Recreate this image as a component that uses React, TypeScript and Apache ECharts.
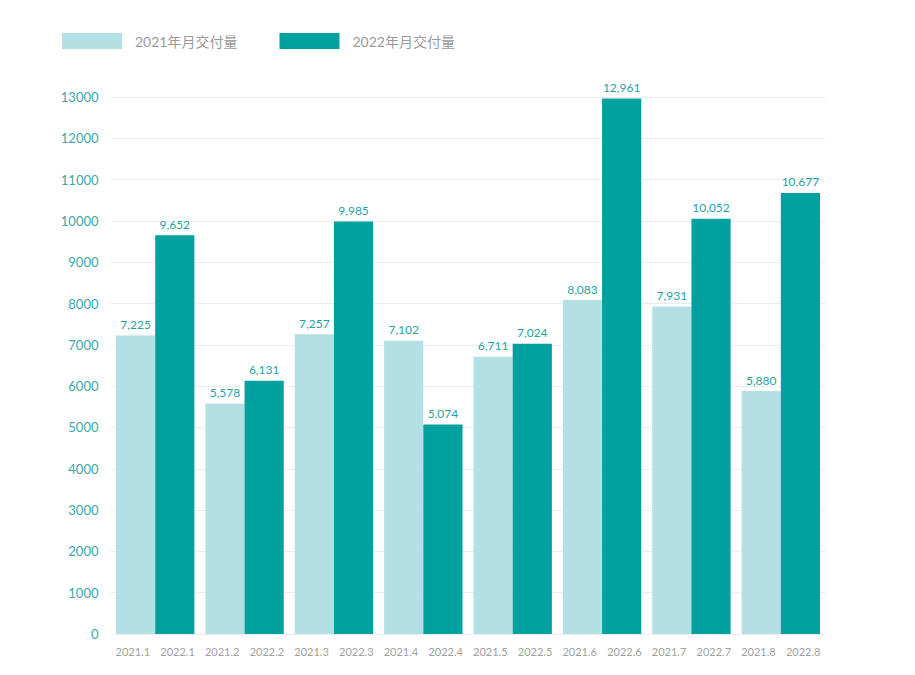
import React, { useEffect, useRef } from "react";
import * as echarts from "echarts";

const groups = ["1", "2", "3", "4", "5", "6", "7", "8"];
const labels2021 = ["2021.1", "2021.2", "2021.3", "2021.4", "2021.5", "2021.6", "2021.7", "2021.8"];
const labels2022 = ["2022.1", "2022.2", "2022.3", "2022.4", "2022.5", "2022.6", "2022.7", "2022.8"];
const values2021 = [7225, 5578, 7257, 7102, 6711, 8083, 7931, 5880];
const values2022 = [9652, 6131, 9985, 5074, 7024, 12961, 10052, 10677];
const seriesNames = ["2021年月交付量", "2022年月交付量"];

const fineLabels: string[] = [];
labels2021.forEach((l, i) => {
  fineLabels.push(l, labels2022[i]);
});

export default function App() {
  const ref = useRef<HTMLDivElement>(null);
  useEffect(() => {
    if (!ref.current) return;
    const chart = echarts.init(ref.current, null, { renderer: "svg" });
    const font = "Lato, 'Noto Sans CJK SC', sans-serif";
    const valueLabel = {
      show: true,
      position: "top",
      distance: 5,
      color: "#1fa3a3",
      fontSize: 12,
      fontFamily: font,
      formatter: (p: any) => Number(p.value).toLocaleString("en-US"),
    };
    chart.setOption({
      animation: false,
      textStyle: { fontFamily: font },
      legend: {
        left: 49,
        top: 20,
        itemWidth: 60,
        itemHeight: 16,
        itemGap: 42,
        icon: "rect",
        textStyle: { color: "#9a9a9a", fontSize: 14, fontFamily: font, padding: [0, 0, 0, 8] },
        data: seriesNames,
      },
      grid: { left: 102.5, right: 81.5, top: 89, bottom: 33, containLabel: false },
      xAxis: [
        {
          type: "category",
          data: groups,
          axisLine: { show: false },
          axisTick: { show: false },
          axisLabel: { show: false },
        },
        {
          type: "category",
          data: fineLabels,
          position: "bottom",
          axisLine: { show: false },
          axisTick: { show: false },
          axisLabel: { color: "#a0a0a0", fontSize: 11, margin: 12, fontFamily: font, interval: 0 },
        },
      ],
      yAxis: {
        type: "value",
        min: 0,
        max: 13000,
        interval: 1000,
        axisLine: { show: false },
        axisTick: { show: false },
        axisLabel: {
          color: "#3aa8a8",
          fontSize: 13,
          margin: 12,
          fontFamily: font,
          formatter: (v: number) => String(v),
        },
        splitLine: { lineStyle: { color: "#ececec", width: 1 } },
      },
      series: [
        {
          name: seriesNames[0],
          type: "bar",
          xAxisIndex: 0,
          data: values2021,
          barGap: "0%",
          barCategoryGap: "12.3%",
          itemStyle: { color: "#b3e0e5" },
          label: valueLabel,
        },
        {
          name: seriesNames[1],
          type: "bar",
          xAxisIndex: 0,
          data: values2022,
          barGap: "0%",
          barCategoryGap: "12.3%",
          itemStyle: { color: "#00a19e" },
          label: valueLabel,
        },
      ],
    });
    return () => chart.dispose();
  }, []);
  return <div ref={ref} style={{ width: 899, height: 659 }} />;
}
